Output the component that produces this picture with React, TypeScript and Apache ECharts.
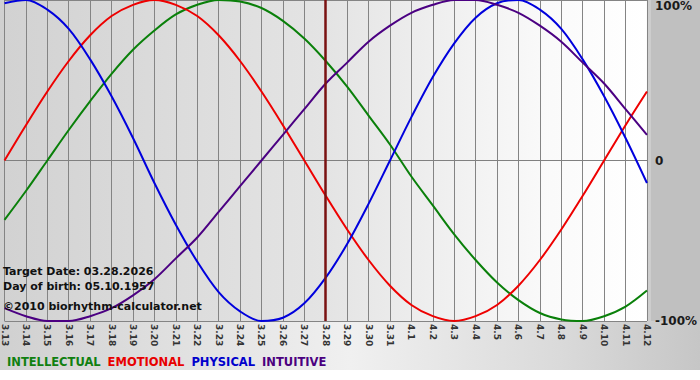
import React, { useEffect, useRef } from "react";
import * as echarts from "echarts";

const categories = [
  "3.13", "3.14", "3.15", "3.16", "3.17", "3.18", "3.19", "3.20", "3.21", "3.22",
  "3.23", "3.24", "3.25", "3.26", "3.27", "3.28", "3.29", "3.30", "3.31", "4.1",
  "4.2", "4.3", "4.4", "4.5", "4.6", "4.7", "4.8", "4.9", "4.10", "4.11", "4.12",
];

const intellectual = [
  -37, -19, 0, 19, 37, 54, 69, 81, 91, 97, 100, 99, 95, 87, 76, 62, 46, 28, 10, -10,
  -28, -46, -62, -76, -87, -95, -99, -100, -97, -91, -81,
];
const emotional = [
  0, 22, 43, 62, 78, 90, 97, 100, 97, 90, 78, 62, 43, 22, 0, -22, -43, -62, -78, -90,
  -97, -100, -97, -90, -78, -62, -43, -22, 0, 22, 43,
];
const physical = [
  98, 100, 94, 82, 63, 40, 14, -14, -40, -63, -82, -94, -100, -98, -89, -73, -52, -27, 0, 27,
  52, 73, 89, 98, 100, 94, 82, 63, 40, 14, -14,
];
const intuitive = [
  -92, -97, -100, -100, -97, -92, -84, -74, -61, -48, -32, -16, 0, 16, 32, 48, 61, 74, 84, 92,
  97, 100, 100, 97, 92, 84, 74, 61, 48, 32, 16,
];

const yTickLabels: Record<string, string> = { "100": "100%", "0": "0", "-100": "-100%" };
const targetDay = "3.28";
const infoLines = [
  "Target Date: 03.28.2026",
  "Day of birth: 05.10.1957",
  "\u00A92010 biorhythm-calculator.net",
];

const FONT = "DejaVu Sans, Verdana, sans-serif";

export default function App() {
  const ref = useRef<HTMLDivElement>(null);
  useEffect(() => {
    if (!ref.current) return;
    const chart = echarts.init(ref.current, null, { renderer: "svg" });
    const lineSeries = (name: string, data: number[], color: string, extra: any = {}) => ({
      name,
      type: "line",
      data,
      smooth: 0.33,
      symbol: "none",
      lineStyle: { color, width: 2 },
      itemStyle: { color },
      ...extra,
    });
    chart.setOption({
      animation: false,
      backgroundColor: "transparent",
      grid: {
        left: 0,
        right: 49,
        top: 0,
        bottom: 59,
        show: true,
        borderWidth: 0,
        backgroundColor: new echarts.graphic.LinearGradient(0, 0, 1, 0, [
          { offset: 0, color: "#d2d2d2" },
          { offset: 0.5, color: "#e4e4e4" },
          { offset: 0.85, color: "#fafafa" },
          { offset: 1, color: "#ffffff" },
        ]),
      },
      legend: {
        left: -3,
        top: 350,
        icon: "none",
        itemWidth: 0,
        itemGap: 2,
        selectedMode: false,
        textStyle: { fontFamily: FONT, fontWeight: "bold", fontSize: 11.5 },
        data: [
          { name: "INTELLECTUAL", textStyle: { color: "#108010" } },
          { name: "EMOTIONAL", textStyle: { color: "#e80000" } },
          { name: "PHYSICAL", textStyle: { color: "#0000cc" } },
          { name: "INTUITIVE", textStyle: { color: "#4b0080" } },
        ],
      },
      xAxis: {
        type: "category",
        data: categories,
        boundaryGap: false,
        axisLine: { show: true, lineStyle: { color: "#808080", width: 1 } },
        axisTick: { show: true, length: 5, interval: 0, lineStyle: { color: "#808080" } },
        splitLine: { show: true, interval: 0, lineStyle: { color: "#848484", width: 1 } },
        axisLabel: {
          interval: 0,
          rotate: -90,
          margin: 3,
          color: "#333",
          fontFamily: FONT,
          fontWeight: "bold",
          fontSize: 9,
        },
      },
      yAxis: {
        type: "value",
        position: "right",
        min: -100,
        max: 100,
        interval: 100,
        axisLine: { show: false },
        axisTick: { show: false },
        splitLine: { show: true, lineStyle: { color: "#848484", width: 1 } },
        axisLabel: {
          margin: 8,
          color: "#1a1a1a",
          fontFamily: FONT,
          fontWeight: "bold",
          fontSize: 12,
          verticalAlignMaxLabel: "top",
          formatter: (v: number) => yTickLabels[String(v)] ?? "",
        },
      },
      graphic: infoLines.map((t, i) => ({
        type: "text",
        left: 3,
        top: [266, 281, 301][i],
        z: 100,
        style: {
          text: t,
          font: `bold 11px ${FONT}`,
          fill: "#111",
        },
      })),
      series: [
        lineSeries("INTELLECTUAL", intellectual, "#0a800a"),
        lineSeries("EMOTIONAL", emotional, "#ee0000"),
        lineSeries("PHYSICAL", physical, "#0000dd", {
          markLine: {
            silent: true,
            symbol: "none",
            label: { show: false },
            lineStyle: { color: "#7a1212", width: 2.5, type: "solid" },
            data: [{ xAxis: targetDay }],
          },
        }),
        lineSeries("INTUITIVE", intuitive, "#4b0082"),
      ],
    });
    return () => chart.dispose();
  }, []);
  return (
    <div
      style={{
        position: "fixed",
        left: 0,
        top: 0,
        width: 700,
        height: 380,
        background:
          "linear-gradient(#ffffff,#ffffff) 0 370px / 700px 10px no-repeat, linear-gradient(#c0c0c0,#c0c0c0) 651px 0 / 49px 321px no-repeat, linear-gradient(to right, #d0d0d0, #f0f0f0 50%, #dadada 80%, #c6c6c6)",
      }}
    >
      <div ref={ref} style={{ width: 700, height: 380 }} />
    </div>
  );
}
